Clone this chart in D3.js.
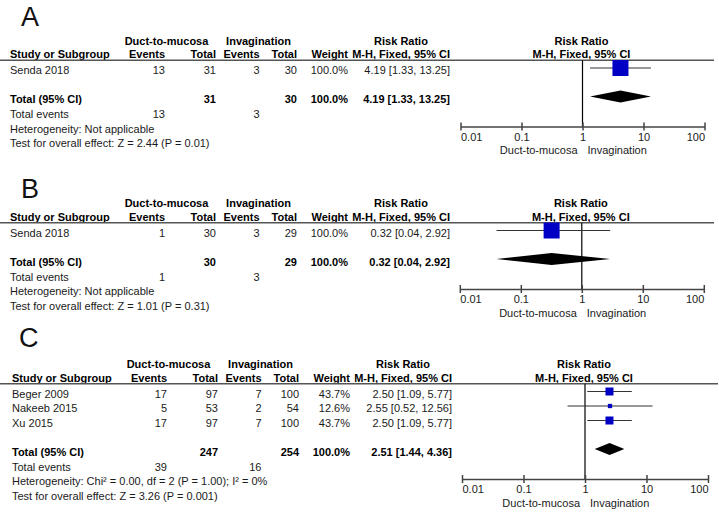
<!DOCTYPE html>
<html>
<head>
<meta charset="utf-8">
<script src="https://cdn.jsdelivr.net/npm/d3@7"></script>
<style>
  html, body { margin: 0; padding: 0; background: #fff; }
  svg { display: block; }
  text { font-family: "Liberation Sans", Arial, sans-serif; font-size: 11px; fill: #1a1a1a; }
  .b { font-weight: bold; fill: #000; }
  .letter { font-family: "Liberation Sans", Arial, sans-serif; font-size: 27px; fill: #111; }
</style>
</head>
<body>
<svg id="chart" width="719" height="513"></svg>
<script>
// ---------- DATA ----------
const panelLabels = ["A", "B", "C"];
const groupNames = ["Duct-to-mucosa", "Invagination"];
const tickValues = [0.01, 0.1, 1, 10, 100];
const tickLabels = ["0.01", "0.1", "1", "10", "100"];

// Panel A
const studiesA = ["Senda 2018"];
const ductEventsA = [13];
const ductTotalA = [31];
const invEventsA = [3];
const invTotalA = [30];
const weightA = [100.0];
const rrA = [4.19];
const ciLowA = [1.33];
const ciHighA = [13.25];
const pooledA = [4.19, 1.33, 13.25];
const hetA = "Heterogeneity: Not applicable";
const testA = "Test for overall effect: Z = 2.44 (P = 0.01)";

// Panel B
const studiesB = ["Senda 2018"];
const ductEventsB = [1];
const ductTotalB = [30];
const invEventsB = [3];
const invTotalB = [29];
const weightB = [100.0];
const rrB = [0.32];
const ciLowB = [0.04];
const ciHighB = [2.92];
const pooledB = [0.32, 0.04, 2.92];
const hetB = "Heterogeneity: Not applicable";
const testB = "Test for overall effect: Z = 1.01 (P = 0.31)";

// Panel C
const studiesC = ["Beger 2009", "Nakeeb 2015", "Xu 2015"];
const ductEventsC = [17, 5, 17];
const ductTotalC = [97, 53, 97];
const invEventsC = [7, 2, 7];
const invTotalC = [100, 54, 100];
const weightC = [43.7, 12.6, 43.7];
const rrC = [2.50, 2.55, 2.50];
const ciLowC = [1.09, 0.52, 1.09];
const ciHighC = [5.77, 12.56, 5.77];
const pooledC = [2.51, 1.44, 4.36];
const hetC = "Heterogeneity: Chi\u00B2 = 0.00, df = 2 (P = 1.00); I\u00B2 = 0%";
const testC = "Test for overall effect: Z = 3.26 (P = 0.001)";

const panels = [
  { label: panelLabels[0], studies: studiesA, de: ductEventsA, dt: ductTotalA, ie: invEventsA, it: invTotalA,
    w: weightA, rr: rrA, lo: ciLowA, hi: ciHighA, pooled: pooledA, het: hetA, test: testA },
  { label: panelLabels[1], studies: studiesB, de: ductEventsB, dt: ductTotalB, ie: invEventsB, it: invTotalB,
    w: weightB, rr: rrB, lo: ciLowB, hi: ciHighB, pooled: pooledB, het: hetB, test: testB },
  { label: panelLabels[2], studies: studiesC, de: ductEventsC, dt: ductTotalC, ie: invEventsC, it: invTotalC,
    w: weightC, rr: rrC, lo: ciLowC, hi: ciHighC, pooled: pooledC, het: hetC, test: testC }
];

// ---------- LAYOUT ----------
const layout = [
  { y0: 44.5, dx: 0, x1: 582.5, dec: 61, letterX: 21, letterY: 25.5, lineEnd: 714, sq: 1.6 },
  { y0: 207, dx: 0, x1: 581.8, dec: 61, letterX: 21, letterY: 198, lineEnd: 714, sq: 1.6 },
  { y0: 368, dx: 2, x1: 585, dec: 61.5, letterX: 19, letterY: 347, lineEnd: 718, sq: 1.21 }
];

const svg = d3.select("#chart");
const fmt2 = d3.format(".2f");
const fmtW = v => d3.format(".1f")(v) + "%";
const ciText = (r, l, h) => `${fmt2(r)} [${fmt2(l)}, ${fmt2(h)}]`;

panels.forEach((p, pi) => {
  const L = layout[pi];
  const g = svg.append("g");
  const cx = {
    study: 10 + L.dx, de: 165 + L.dx, dt: 216 + L.dx, ie: 259.5 + L.dx, it: 297 + L.dx,
    w: 348 + L.dx, rr: 450 + L.dx, g1: 166.5 + L.dx, g2: 258.5 + L.dx, rrh: 401 + L.dx
  };
  const x = d3.scaleLog().domain([0.01, 100]).range([L.x1 - 2 * L.dec, L.x1 + 2 * L.dec]);

  const txt = (xx, yy, s, anchor, cls) => g.append("text").attr("x", xx).attr("y", yy)
      .attr("text-anchor", anchor || "start").attr("class", cls || null).text(s);

  // Panel letter
  g.append("text").attr("class", "letter").attr("x", L.letterX).attr("y", L.letterY).text(p.label);

  // Headers
  const y0 = L.y0, y1 = y0 + 13.5, lineY = y0 + 15.8;
  txt(cx.g1, y0, groupNames[0], "middle", "b");
  txt(cx.g2, y0, groupNames[1], "middle", "b");
  txt(cx.rrh, y0, "Risk Ratio", "middle", "b");
  txt(L.x1 - 1, y0, "Risk Ratio", "middle", "b");
  txt(cx.study, y1, "Study or Subgroup", "start", "b");
  txt(cx.de, y1, "Events", "end", "b");
  txt(cx.dt, y1, "Total", "end", "b");
  txt(cx.ie, y1, "Events", "end", "b");
  txt(cx.it, y1, "Total", "end", "b");
  txt(cx.w, y1, "Weight", "end", "b");
  txt(cx.rr, y1, "M-H, Fixed, 95% CI", "end", "b");
  txt(L.x1 - 1, y1, "M-H, Fixed, 95% CI", "middle", "b");

  g.append("line").attr("x1", 0).attr("x2", L.lineEnd).attr("y1", lineY).attr("y2", lineY)
    .attr("stroke", "#555").attr("stroke-width", 1.4);

  // Study rows
  const rowY = i => y0 + 29.5 + 14.5 * i;
  p.studies.forEach((s, i) => {
    const yy = rowY(i);
    txt(cx.study, yy, s);
    txt(cx.de, yy, p.de[i], "end");
    txt(cx.dt, yy, p.dt[i], "end");
    txt(cx.ie, yy, p.ie[i], "end");
    txt(cx.it, yy, p.it[i], "end");
    txt(cx.w, yy, fmtW(p.w[i]), "end");
    txt(cx.rr, yy, ciText(p.rr[i], p.lo[i], p.hi[i]), "end");
  });

  const lastY = rowY(p.studies.length - 1);
  const totY = lastY + 29;
  const teY = totY + 15;
  const hetY = teY + 14.5;
  const testY = hetY + 14.5;
  const axisY = totY + 23.5;

  txt(cx.study, totY, "Total (95% CI)", "start", "b");
  txt(cx.dt, totY, d3.sum(p.dt), "end", "b");
  txt(cx.it, totY, d3.sum(p.it), "end", "b");
  txt(cx.w, totY, fmtW(d3.sum(p.w)), "end", "b");
  txt(cx.rr, totY, ciText(p.pooled[0], p.pooled[1], p.pooled[2]), "end", "b");

  txt(cx.study, teY, "Total events");
  txt(cx.de, teY, d3.sum(p.de), "end");
  txt(cx.ie, teY, d3.sum(p.ie), "end");
  txt(cx.study, hetY, p.het);
  txt(cx.study, testY, p.test);

  // Plot: null line
  g.append("line").attr("x1", x(1)).attr("x2", x(1)).attr("y1", lineY).attr("y2", axisY)
    .attr("stroke", "#000").attr("stroke-width", 1.2);

  // CIs and squares
  p.studies.forEach((s, i) => {
    const yy = rowY(i) - 6;
    g.append("line").attr("x1", x(p.lo[i])).attr("x2", x(p.hi[i])).attr("y1", yy).attr("y2", yy)
      .attr("stroke", "#333").attr("stroke-width", 1);
    const sz = L.sq * Math.sqrt(p.w[i]);
    g.append("rect").attr("x", x(p.rr[i]) - sz / 2).attr("y", yy - sz / 2)
      .attr("width", sz).attr("height", sz).attr("fill", "#0000c4");
  });

  // Diamond
  const dy = totY - 6.5, hh = 6;
  g.append("path")
    .attr("d", `M${x(p.pooled[1])},${dy} L${x(p.pooled[0])},${dy - hh} L${x(p.pooled[2])},${dy} L${x(p.pooled[0])},${dy + hh} Z`)
    .attr("fill", "#000");

  // Axis
  const axis = d3.axisBottom(x).tickValues(tickValues).tickSize(0).tickFormat((d, i) => tickLabels[i]);
  const ag = g.append("g").attr("transform", `translate(0,${axisY})`).call(axis);
  ag.select(".domain").attr("stroke", "#444").attr("stroke-width", 1.5);
  ag.selectAll(".tick").append("line").attr("y1", -4).attr("y2", 4).attr("stroke", "#444").attr("stroke-width", 1.5);
  ag.selectAll(".tick text")
    .attr("y", 14).attr("dy", 0)
    .style("font-family", '"Liberation Sans", Arial, sans-serif').style("font-size", "11px").attr("fill", "#1a1a1a")
    .attr("text-anchor", (d, i) => i === 0 ? "start" : (i === tickValues.length - 1 ? "end" : "middle"));

  txt(x(1) - 5, axisY + 27.5, groupNames[0], "end");
  txt(x(1) + 5, axisY + 27.5, groupNames[1], "start");
});
</script>
</body>
</html>
